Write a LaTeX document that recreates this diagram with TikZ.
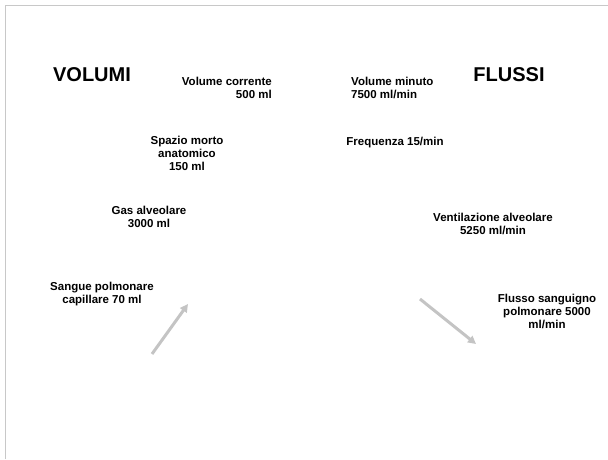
\documentclass[tikz,border=0pt]{standalone}
\usepackage{fontspec}
\setmainfont{Liberation Sans}
\usetikzlibrary{arrows.meta}

\definecolor{framegray}{HTML}{C8C8C8}
\definecolor{arrowgray}{HTML}{C4C4C4}

\begin{document}
\begin{tikzpicture}[x=1pt, y=-1pt,
        lbl/.style={inner sep=0pt, font=\bfseries\fontsize{11.5}{13}\selectfont, align=center},
        head/.style={inner sep=0pt, font=\bfseries\fontsize{20}{24}\selectfont},
        flow/.style={draw=arrowgray, line width=3pt, -{Triangle[length=8pt,width=8pt]}}]

        \useasboundingbox (0,0) rectangle (608,459);
        \draw[framegray, line width=1pt] (5,459) -- (5,5) -- (608,5);

        % titoli
        \node[head, name=volumi] at (92, 75) {VOLUMI};
        \node[head, name=flussi] at (509, 75) {FLUSSI};

        % volumi
        \node[lbl, name=corrente, anchor=east, align=right] at (272, 88) {Volume corrente\\500 ml};
        \node[lbl, name=morto] at (187, 153) {Spazio morto\\anatomico\\150 ml};
        \node[lbl, name=alveolare] at (149, 217) {Gas alveolare\\3000 ml};
        \node[lbl, name=sangue] at (102, 294) {Sangue polmonare\\capillare 70 ml};

        % flussi
        \node[lbl, name=minuto, anchor=west, align=left] at (351, 88) {Volume minuto\\7500 ml/min};
        \node[lbl, name=frequenza] at (395, 143) {Frequenza 15/min};
        \node[lbl, name=ventilazione] at (493, 224) {Ventilazione alveolare\\5250 ml/min};
        \node[lbl, name=flusso] at (547, 311) {Flusso sanguigno\\polmonare 5000\\ml/min};

        \coordinate (a1) at (152, 354);
        \coordinate (b1) at (188, 304);
        \coordinate (a2) at (420, 299);
        \coordinate (b2) at (476, 344);
        \draw[flow] (a1) -- (b1);
        \draw[flow] (a2) -- (b2);
    \end{tikzpicture}
\end{document}
